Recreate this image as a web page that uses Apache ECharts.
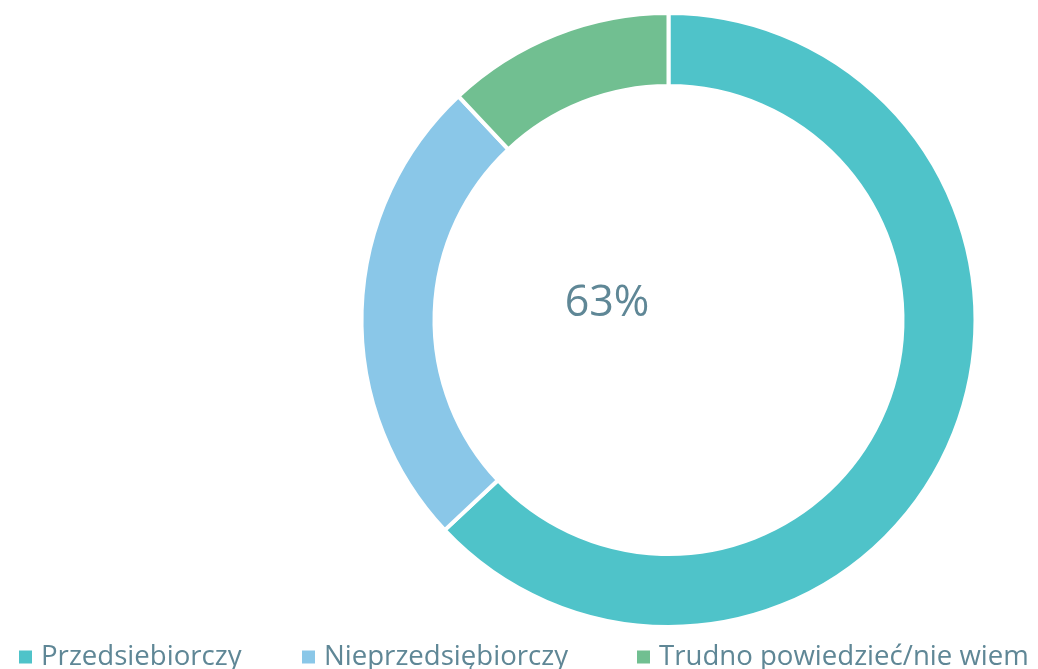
<!DOCTYPE html>
<html>
<head>
<meta charset="utf-8">
<script src="https://cdn.jsdelivr.net/npm/echarts@6/dist/echarts.min.js"></script>
<style>html,body{margin:0;padding:0;background:#fff}#c{width:1038px;height:669px}</style>
</head>
<body>
<div id="c"></div>
<script>
const categories = ['Przedsiebiorczy', 'Nieprzedsiębiorczy', 'Trudno powiedzieć/nie wiem'];
const values = [63, 25, 12];
const colors = ['#4FC3C9', '#8AC7E8', '#71BF91'];
const centerLabel = '63%';

const chart = echarts.init(document.getElementById('c'));
const legendLefts = [17, 300, 635];
const font = '"Open Sans", sans-serif';
chart.setOption({
  animation: false,
  color: colors,
  title: {
    text: centerLabel,
    left: 602, top: 299, textAlign: 'center', textVerticalAlign: 'middle',
    textStyle: { fontFamily: font, fontSize: 43, fontWeight: 'normal', color: '#5F8796' }
  },
  legend: categories.map((c, i) => ({
    data: [c],
    left: legendLefts[i],
    top: 643,
    padding: 0,
    icon: 'rect',
    itemWidth: 15, itemHeight: 15, itemGap: 0,
    selectedMode: false,
    textStyle: { fontFamily: font, fontSize: 27.6, color: '#5F8796', padding: [0, 0, 0, 3] }
  })),
  series: [{
    type: 'pie',
    center: [668.5, 320],
    radius: [234, 307],
    startAngle: 90,
    clockwise: true,
    label: { show: false },
    labelLine: { show: false },
    emphasis: { disabled: true },
    itemStyle: { borderColor: '#fff', borderWidth: 4 },
    data: categories.map((c, i) => ({ name: c, value: values[i] }))
  }]
});
</script>
</body>
</html>
